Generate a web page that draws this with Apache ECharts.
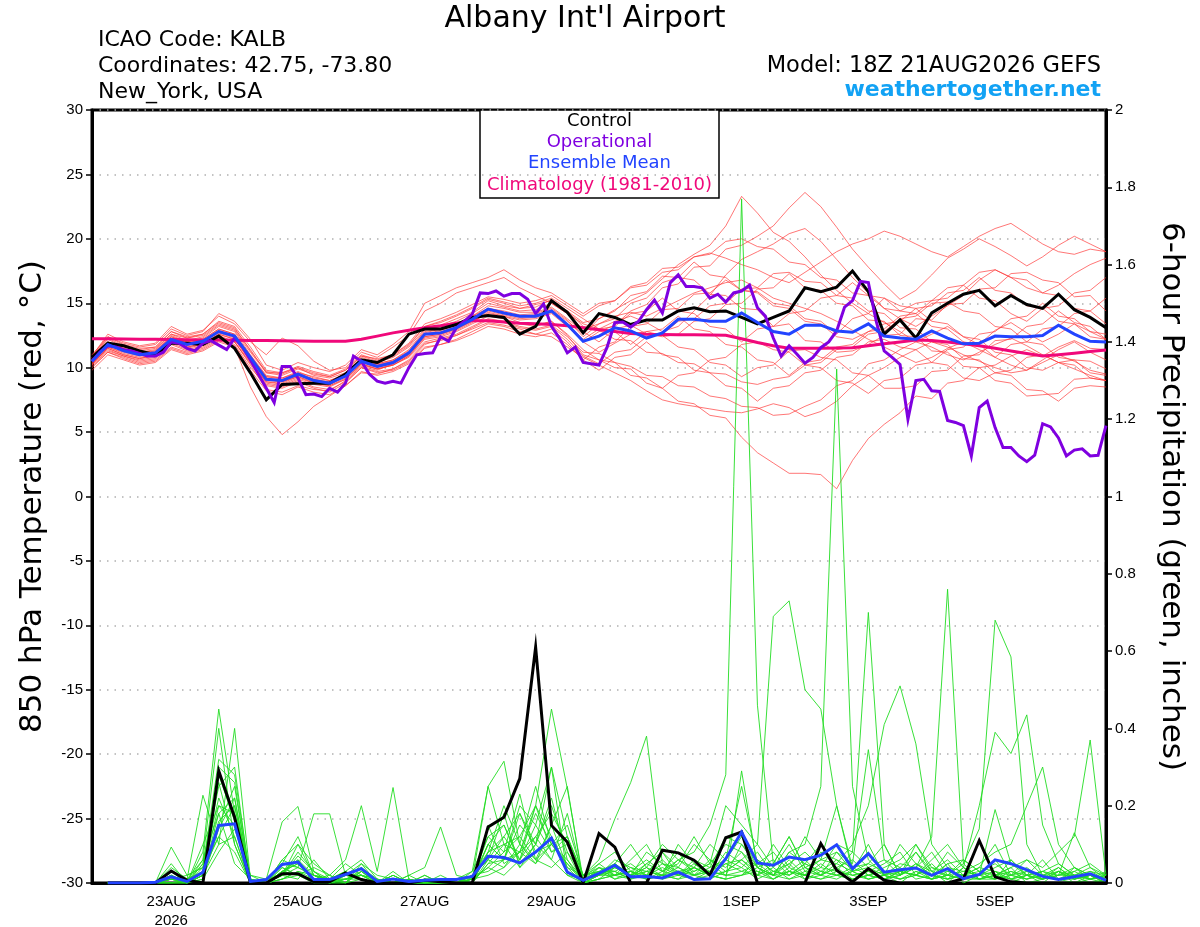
<!DOCTYPE html>
<html>
<head>
<meta charset="utf-8">
<title>Albany Int'l Airport - GEFS 850 hPa temperature / precipitation</title>
<script src="https://cdn.jsdelivr.net/npm/echarts@6.0.0/dist/echarts.min.js"></script>
<style>
html, body { margin: 0; padding: 0; background: #fff; }
#chart { width: 1200px; height: 927px; }
</style>
</head>
<body>
<div id="chart"></div>
<script>
// x is the forecast step, 6-hourly from 18Z 21AUG2026 (0) to 18Z 06SEP2026 (64)
const dateTicks = [5, 13, 21, 29, 41, 49, 57]
const dateLabels = ['23AUG\n2026', '25AUG', '27AUG', '29AUG', '1SEP', '3SEP', '5SEP']

// 850 hPa temperature, deg C, 6-hourly
const controlTemp = [10.8,11.9,11.7,11.3,11.0,11.9,11.9,11.8,12.45,11.5, 9.6,7.5,8.7,8.75,8.8,8.8,9.5,10.6,10.4,11.0, 12.6,13.0,13.0,13.35,13.9,14.05,13.9,12.6,13.2,15.2, 14.3,12.7,14.2,13.9,13.35,13.7,13.7,14.4,14.65,14.35, 14.4,13.9,13.4,13.9,14.4,16.2,15.9,16.25,17.5,15.9, 12.6,13.7,12.3,14.25,15.0,15.7,16.0,14.8,15.6,14.9, 14.6,15.7,14.5,13.9,13.1]
const meanTemp = [10.5,11.8,11.3,11.0,11.15,12.2,11.8,12.05,12.8,12.45, 10.8,9.1,9.0,9.5,9.0,8.8,9.35,10.5,10.1,10.4, 11.15,12.6,12.7,13.1,13.75,14.55,14.25,14.0,14.0,14.4, 13.35,12.05,12.45,13.1,12.85,12.3,12.7,13.75,13.75,13.6, 13.6,14.25,13.5,12.8,12.6,13.3,13.3,12.85,12.75,13.4, 12.45,12.3,12.2,12.85,12.3,11.85,11.9,12.45,12.4,12.4, 12.5,13.3,12.6,12.05,12.0]
const climoTemp = [12.25,12.25,12.22,12.2,12.2,12.18,12.16,12.15,12.14,12.12, 12.1,12.1,12.08,12.07,12.06,12.05,12.05,12.2,12.45,12.7, 12.9,13.1,13.25,13.45,13.65,13.65,13.55,13.45,13.4,13.35, 13.25,13.1,12.95,12.8,12.65,12.6,12.58,12.56,12.55,12.54, 12.52,12.25,11.95,11.7,11.5,11.5,11.5,11.52,11.55,11.7, 11.85,12.0,12.15,12.1,12.0,11.85,11.7,11.5,11.3,11.1, 10.9,11.0,11.12,11.25,11.37]
// operational run is 3-hourly (step 0, 0.5, 1, ...)
const operTemp = [10.5,11.2,11.7,11.6,11.4,11.3,11.1,10.9,10.9,11.2, 12.0,11.9,11.5,11.3,11.9,12.1,11.75,11.4,12.3,11.6, 10.6,9.5,8.4,7.3,10.1,10.1,9.2,7.9,7.95,7.75, 8.4,8.1,8.8,10.9,10.5,9.5,8.95,8.8,8.95,8.8, 10.0,11.0,11.1,11.15,12.4,12.05,13.1,13.6,14.15,15.8, 15.75,15.95,15.55,15.75,15.75,15.3,14.2,14.95,13.2,12.3, 11.15,11.6,10.4,10.3,10.2,11.55,13.5,13.55,13.15,13.6, 14.5,15.25,14.25,16.6,17.2,16.3,16.3,16.2,15.4,15.7, 15.1,15.8,15.95,16.4,14.65,14.0,12.3,10.9,11.7,11.05, 10.35,10.8,11.55,12.0,12.85,14.7,15.2,16.7,16.6,13.6, 11.3,10.8,10.25,6.0,9.0,9.1,8.2,8.15,5.9,5.75, 5.5,3.15,6.9,7.4,5.35,3.8,3.8,3.15,2.7,3.2, 5.65,5.4,4.55,3.15,3.6,3.7,3.15,3.2,5.5]

// ensemble members, 850 hPa temperature
const memberT01 = [10.8,12.2,11.6,11.3,11.5,12.6,12.3,12.5,13.4,13.0, 11.4,9.6,9.4,9.9,9.5,9.3,9.8,10.9,10.7,11.0, 11.8,13.2,13.5,14.0,14.6,15.3,15.0,14.6,14.9,15.2, 14.4,13.5,13.8,14.5,15.2,15.8,16.9,18.0,18.8,19.5, 21.0,23.3,22.0,20.5,19.8,18.6,17.2,16.0,15.0,14.2, 13.5,12.8,12.0,12.6,13.2,12.4,11.8,12.9,13.5,12.7, 12.0,12.6,13.4,12.8,12.2]
const memberT02 = [10.2,11.6,11.1,10.8,10.9,12.0,11.6,11.9,12.6,12.2, 10.5,8.8,8.6,9.1,8.7,8.5,9.1,10.2,9.9,10.2, 10.9,12.3,12.5,12.9,13.5,14.3,14.0,13.7,13.8,14.2, 13.2,12.0,12.8,13.3,14.4,14.9,16.2,16.5,17.8,17.9, 19.2,19.5,20.2,21.0,22.4,23.6,22.5,20.9,19.2,17.8, 16.5,15.3,16.0,17.2,18.5,19.2,20.0,19.4,18.7,17.9, 18.6,19.5,20.2,19.6,19.0]
const memberT03 = [10.4,11.5,11.0,10.7,11.0,12.0,11.5,11.8,12.5,12.0, 10.2,8.3,8.1,8.6,8.3,8.2,9.0,10.1,9.8,10.3, 11.0,12.4,12.6,13.0,13.6,14.2,14.0,13.5,13.3,13.6, 12.5,11.0,10.6,10.0,9.9,8.8,8.4,7.4,7.2,6.3, 6.1,4.6,3.4,2.6,1.8,1.8,1.7,0.6,2.8,4.5, 5.6,6.5,7.8,7.6,8.8,9.0,10.0,10.2,10.9,11.4, 10.9,11.6,12.1,11.5,11.4]
const memberT04 = [9.8,11.0,10.6,10.2,10.4,11.4,11.0,11.3,12.0,11.6, 8.5,6.2,4.8,5.8,7.0,7.8,8.6,9.6,9.5,9.9, 10.5,11.8,12.2,12.5,13.0,13.5,13.3,13.0,12.6,12.4, 11.6,10.8,10.2,9.6,9.0,8.2,7.5,7.2,7.0,6.8, 6.6,6.5,6.8,7.2,6.9,6.2,6.6,7.4,8.6,9.4, 10.0,10.8,11.4,12.0,11.6,11.0,10.5,10.0,9.6,9.8, 10.4,11.0,10.5,9.8,9.5]
const memberT05 = [10.9,12.6,12.0,11.7,11.9,13.2,12.6,12.9,14.0,13.4, 12.0,11.0,12.3,11.7,10.5,9.8,10.0,11.2,10.8,11.6, 12.5,14.4,15.0,15.8,16.2,16.6,17.0,16.2,15.6,15.0, 14.2,13.4,13.0,13.6,14.0,13.5,12.8,13.2,14.4,15.6, 17.2,18.4,19.0,19.6,20.4,20.8,19.8,18.4,17.0,15.8, 14.6,13.8,13.2,14.0,14.8,15.6,16.8,17.6,17.0,16.2, 15.8,16.4,17.3,18.0,18.5]
const memberT06 = [10.6,11.9,11.4,11.2,11.3,12.4,12.0,12.3,13.2,12.8, 11.0,9.4,9.2,9.6,9.3,9.0,9.5,10.6,10.3,10.6, 11.4,12.9,13.2,13.6,14.2,15.0,14.7,14.4,14.5,15.0, 14.2,13.0,13.4,14.0,14.3,14.0,14.6,15.2,15.8,16.2, 16.6,16.8,16.2,15.4,15.0,14.6,14.2,13.6,12.9,12.2, 11.6,11.0,10.4,10.8,11.5,12.0,11.4,10.8,10.2,9.8, 10.6,11.4,12.0,11.2,10.6]
const memberT07 = [10.3,11.4,10.9,10.5,10.7,11.8,11.3,11.6,12.3,12.0, 10.4,8.9,8.8,9.3,8.8,8.6,9.2,10.3,9.9,10.2, 10.8,12.0,12.3,12.6,13.2,13.8,13.6,13.2,13.0,13.3, 12.4,11.2,11.1,10.4,10.1,9.4,9.3,8.6,8.5,7.8, 7.6,7.0,6.9,6.3,6.4,7.0,7.5,8.6,9.0,10.3, 10.6,11.4,12.0,11.6,11.0,10.6,11.2,11.8,12.3,11.7, 11.0,10.4,9.9,9.4,9.0]
const memberT08 = [11.0,12.4,11.8,11.5,11.6,12.8,12.4,12.6,13.6,13.2, 11.6,9.8,9.6,10.1,9.7,9.4,9.9,11.0,10.6,11.0, 11.9,13.4,13.8,14.3,14.9,15.5,15.3,15.0,15.2,15.6, 14.8,14.0,14.8,15.2,16.3,16.6,17.7,17.8,18.6,18.9, 18.5,18.0,17.6,17.0,16.6,17.4,18.2,19.0,19.6,20.0, 20.6,20.2,19.6,19.0,18.6,19.4,20.2,20.8,21.2,20.4, 19.6,19.0,18.8,19.2,19.0]
const memberT09 = [10.1,11.2,10.8,10.4,10.6,11.6,11.2,11.5,12.2,11.8, 10.0,8.6,8.4,8.9,8.4,8.1,8.8,10.0,9.6,9.8, 10.4,11.6,11.8,12.2,12.8,13.4,13.2,12.8,12.6,13.0, 12.0,10.6,11.6,12.0,13.2,13.4,14.5,14.6,15.7,15.8, 16.8,16.0,15.9,15.0,14.8,13.8,13.6,12.6,13.8,14.2, 15.4,14.8,14.6,13.6,13.4,12.4,12.2,11.2,11.0,10.0, 9.8,10.4,10.6,10.5,9.9]
const memberT10 = [10.7,12.0,11.5,11.2,11.4,12.6,12.1,12.4,13.3,12.9, 11.2,9.6,9.6,10.0,9.4,9.2,9.6,10.8,10.4,10.8, 11.6,13.0,13.3,13.8,14.3,15.2,14.8,14.6,14.7,15.3, 14.4,13.2,12.9,12.2,12.1,11.2,11.1,10.4,10.3,9.6, 9.5,8.9,8.7,9.1,9.3,10.2,10.4,11.4,11.6,12.6, 12.8,13.8,14.0,15.0,15.1,14.4,14.2,13.2,13.0,12.0, 11.8,10.8,10.6,9.6,9.4]
const memberT11 = [10.5,11.7,11.3,11.0,11.2,12.3,11.9,12.1,12.9,12.5, 10.7,9.1,8.9,9.4,9.0,8.8,9.4,10.5,10.2,10.5, 11.2,12.6,12.9,13.3,13.9,14.6,14.3,14.0,14.1,14.5, 13.6,12.6,13.8,14.4,15.6,15.9,17.1,17.0,16.8,15.7, 15.6,14.6,14.5,13.2,13.4,12.1,12.0,11.2,11.3,11.8, 12.5,12.6,13.8,13.7,14.9,15.0,16.1,16.2,17.3,17.4, 16.8,16.6,15.5,15.6,14.4]
const memberT12 = [10.4,11.6,11.2,10.9,11.0,12.1,11.7,12.0,12.7,12.3, 10.6,9.0,8.9,9.3,8.9,8.7,9.3,10.4,10.0,10.3, 11.0,12.4,12.6,13.0,13.6,14.4,14.1,13.8,13.9,14.3, 13.3,12.0,11.2,11.9,12.6,12.8,12.5,11.6,11.4,10.4, 10.2,9.3,10.0,10.2,11.3,11.4,10.8,10.6,9.6,9.4, 8.4,8.4,8.6,9.7,9.8,10.9,11.0,12.1,12.2,13.2, 13.4,14.4,13.5,13.2,12.2]
const memberT13 = [10.6,12.0,11.5,11.1,11.3,12.5,12.0,12.2,13.0,12.6, 10.9,9.3,9.2,9.7,9.2,9.0,9.5,10.6,10.3,10.6, 11.3,12.8,13.0,13.4,14.0,14.8,14.6,14.3,14.3,14.7, 13.8,12.8,12.0,13.0,13.3,12.6,12.4,12.6,13.6,13.8, 14.9,15.0,16.1,16.2,17.3,16.2,16.0,15.0,14.8,13.7, 13.6,12.5,12.4,11.3,11.2,10.1,10.0,9.0,8.8,7.8, 7.9,8.0,9.1,9.2,9.0]
const memberT14 = [10.2,11.3,10.9,10.6,10.8,11.9,11.4,11.7,12.4,12.0, 10.3,8.7,8.5,9.0,8.5,8.3,8.9,10.0,9.7,9.9, 10.6,11.9,12.1,12.5,13.1,13.7,13.5,13.1,12.9,13.2, 12.2,10.9,10.3,11.2,11.4,12.4,12.6,13.6,13.8,14.8, 15.0,16.1,16.2,17.3,17.4,16.7,16.6,15.6,15.4,14.4, 14.2,13.1,13.0,12.0,11.8,10.7,10.6,9.6,9.4,8.3, 8.2,7.4,8.4,8.6,8.5]
const memberT15 = [10.8,12.3,11.7,11.4,11.6,12.8,12.3,12.6,13.5,13.1, 11.3,9.7,9.5,10.0,9.6,9.3,9.8,10.9,10.5,10.9, 11.7,13.2,13.6,14.1,14.7,15.4,15.1,14.8,15.0,15.4, 14.6,13.8,13.0,12.8,11.8,12.8,13.0,14.0,13.0,12.8, 11.8,11.6,10.6,10.4,9.4,10.4,10.6,11.6,11.8,12.8, 13.0,14.0,14.2,15.2,15.4,16.4,15.4,15.2,14.2,13.6, 14.6,14.8,15.8,16.0,17.0]
const memberT16 = [10.5,11.8,11.3,11.0,11.1,12.2,11.8,12.0,12.8,12.4, 10.8,9.2,9.0,9.5,9.1,8.8,9.3,10.5,10.1,10.4, 11.1,12.6,12.8,13.2,13.8,14.5,14.2,13.9,14.0,14.4, 13.4,12.2,13.0,13.2,14.2,14.4,15.4,14.4,14.2,13.2, 13.0,12.0,13.0,13.2,14.2,14.4,15.4,15.6,16.6,15.6, 15.4,14.4,14.2,13.2,13.0,12.0,11.8,10.8,11.8,12.0, 13.0,13.2,14.2,14.4,15.4]
const memberT17 = [10.3,11.5,11.0,10.7,10.9,12.0,11.6,11.8,12.6,12.2, 10.5,8.9,8.7,9.2,8.8,8.6,9.1,10.3,9.9,10.2, 10.9,12.2,12.4,12.8,13.4,14.0,13.8,13.4,13.2,13.6, 12.6,11.4,10.6,10.4,9.4,9.2,8.4,9.4,9.6,10.6, 10.8,11.8,12.0,11.4,11.2,10.2,10.0,9.0,8.8,8.0, 9.0,9.2,10.2,10.4,11.4,11.6,12.6,12.8,13.8,14.0, 15.0,14.0,13.8,12.8,12.6]
const memberT18 = [10.6,11.9,11.4,11.0,11.2,12.4,11.9,12.2,13.0,12.6, 10.9,9.3,9.1,9.6,9.1,8.9,9.4,10.6,10.2,10.5, 11.2,12.7,13.0,13.4,14.0,14.6,14.4,14.1,14.2,14.6, 13.7,12.4,13.4,13.8,15.0,15.4,16.6,17.0,18.2,17.2, 17.0,16.0,15.8,14.8,14.6,13.6,13.4,12.4,12.2,12.8, 13.4,13.6,14.6,14.8,15.8,16.0,17.0,16.0,15.8,14.8, 14.6,13.6,13.4,12.4,12.2]
const memberT19 = [10.0,11.2,10.7,10.3,10.5,11.5,11.1,11.4,12.1,11.7, 9.8,8.2,7.9,8.5,8.1,7.9,8.6,9.7,9.4,9.7, 10.3,11.5,11.8,12.1,12.6,13.2,13.0,12.6,12.4,12.7, 11.8,10.6,9.8,10.8,11.0,12.0,11.0,10.8,9.8,9.6, 8.6,8.4,7.4,8.4,8.6,9.6,9.8,10.8,11.0,12.0, 12.2,11.6,11.4,10.4,10.2,9.2,9.0,9.6,9.8,10.8, 11.0,10.4,10.2,9.2,9.0]
const memberT20 = [10.9,12.4,11.9,11.6,11.8,13.0,12.5,12.8,14.2,13.6, 12.2,10.2,9.8,10.4,10.0,9.7,10.2,11.4,11.0,11.8, 12.8,15.0,15.6,16.2,16.6,17.0,17.6,16.8,16.2,15.8, 15.0,14.2,15.0,15.2,16.2,16.4,17.4,17.6,18.6,18.8, 19.8,20.0,19.4,19.2,18.2,18.0,17.0,16.8,15.8,15.6, 14.6,14.4,15.0,15.2,16.2,16.4,17.4,17.6,17.0,16.8, 15.8,15.6,14.6,14.4,13.4]

// 6-hour precipitation, inches, steps 1..64
const controlPrecip = [0,0,0,0,0.031,0.007,0,0.29, 0.17,0,0,0.024,0.024,0.003,0.003,0.026, 0.009,0,0,0,0.007,0.003,0,0, 0.145,0.17,0.27,0.61,0.149,0.106,0,0.128, 0.093,0,0,0.085,0.078,0.059,0.02,0.117, 0.132,0,0,0,0,0.102,0.033,0.003, 0.037,0.007,0,0,0,0,0.011,0.11, 0.016,0.003,0,0,0,0,0,0]
const meanPrecip = [0,0,0,0.002,0.016,0.004,0.028,0.149, 0.153,0.004,0.009,0.048,0.054,0.009,0.009,0.022, 0.037,0.004,0.01,0.004,0.007,0.009,0.009,0.017, 0.069,0.066,0.052,0.08,0.116,0.028,0.007,0.025, 0.046,0.016,0.017,0.013,0.028,0.009,0.011,0.063, 0.132,0.052,0.046,0.067,0.06,0.072,0.099,0.037, 0.076,0.028,0.034,0.039,0.02,0.037,0.011,0.022, 0.06,0.05,0.034,0.017,0.009,0.016,0.024,0.007]
const memberP01 = [0,0,0,0,0.02,0,0.04,0.32, 0.28,0.01,0,0.03,0.06,0,0,0.02, 0.05,0,0,0,0,0.01,0,0, 0.05,0.1,0.08,0.2,0.12,0.03,0,0.02, 0.05,0.1,0.04,0.02,0.06,0.08,0.15,0.28, 1.77,0.46,0.05,0.12,0.04,0.02,0.08,0.03, 0.1,0.02,0,0.03,0.01,0.05,0,0.02, 0.06,0.01,0,0,0.03,0.01,0.02,0]
const memberP02 = [0,0,0,0,0.01,0,0.02,0.18, 0.22,0,0,0.02,0.08,0.03,0,0, 0.01,0,0.02,0,0,0,0,0.03, 0.12,0.15,0.05,0.1,0.2,0.08,0,0.04, 0.02,0.06,0.1,0.03,0.05,0.12,0.05,0.2, 0.15,0.1,0.69,0.73,0.5,0.45,0.2,0.03, 0.05,0.1,0.02,0.08,0.03,0,0.04,0.02, 0.01,0.06,0.02,0,0,0.04,0.02,0.01]
const memberP03 = [0,0,0,0,0,0,0.05,0.25, 0.3,0,0.01,0.05,0.12,0.02,0.01,0, 0.03,0,0,0.01,0,0,0.01,0, 0.08,0.2,0.1,0.05,0.15,0.25,0,0.01, 0.04,0.02,0.08,0.05,0.02,0.04,0.1,0.06, 0.12,0.04,0.02,0.08,0.1,0.25,1.33,0.25, 0.06,0.02,0.1,0.05,0.02,0.08,0.04,0.01, 0.03,0,0.02,0.06,0.01,0,0.02,0]
const memberP04 = [0,0,0,0,0.03,0,0.1,0.2, 0.15,0,0,0.03,0.05,0.01,0,0.01, 0.02,0,0.01,0,0.02,0,0,0.01, 0.1,0.06,0.15,0.1,0.3,0.12,0.02,0.05, 0.08,0.03,0.01,0.02,0.1,0.05,0.02,0.08, 0.05,0.02,0.1,0.04,0.12,0.06,0.2,0.04, 0.08,0.02,0.05,0.04,0.12,0.76,0.05,0.01, 0.02,0.04,0,0.01,0.03,0,0.01,0.02]
const memberP05 = [0,0,0,0,0.01,0.01,0.06,0.4, 0.1,0,0,0.04,0.02,0,0.01,0.03, 0.01,0,0.02,0,0,0.01,0,0.02, 0.06,0.12,0.18,0.08,0.1,0.05,0.01,0.03, 0.05,0.02,0.04,0.1,0.06,0.03,0.05,0.1, 0.08,0.04,0.06,0.02,0.05,0.1,0.03,0.08, 0.04,0.06,0.02,0.1,0.03,0.02,0.05,0.14, 0.68,0.585,0.1,0.02,0.04,0.01,0.03,0.02]
const memberP06 = [0,0,0,0,0.02,0,0.03,0.12, 0.2,0.01,0,0.02,0.1,0.05,0.02,0, 0.04,0.01,0,0.02,0,0,0,0.01, 0.04,0.08,0.12,0.06,0.1,0.15,0.02,0.03, 0.03,0.01,0.05,0.08,0.02,0.06,0.04,0.12, 0.1,0.06,0.03,0.05,0.08,0.04,0.1,0.08, 0.7,0.1,0.02,0.05,0.03,0.06,0.02,0.04, 0.1,0.02,0.01,0.03,0.05,0.02,0,0.01]
const memberP07 = [0,0,0,0,0,0,0.08,0.45, 0.18,0.02,0,0.06,0.04,0.02,0,0.02, 0.02,0,0.03,0,0.01,0,0,0, 0.15,0.05,0.08,0.18,0.1,0.06,0,0.02, 0.06,0.04,0.02,0.05,0.04,0.1,0.06,0.03, 0.06,0.1,0.04,0.1,0.03,0.06,0.05,0.1, 0.2,0.41,0.51,0.36,0.1,0.04,0.03,0.02, 0.04,0.06,0.02,0.01,0.02,0.03,0.01,0]
const memberP08 = [0,0,0,0,0.01,0.02,0.04,0.22, 0.12,0,0.01,0.02,0.07,0.03,0,0.01, 0.03,0,0.01,0,0,0,0.01,0, 0.05,0.06,0.2,0.15,0.08,0.1,0.01,0.05, 0.02,0.03,0.06,0.03,0.08,0.02,0.03,0.06, 0.04,0.08,0.02,0.06,0.02,0.08,0.06,0.02, 0.03,0.05,0.08,0.02,0.06,0.1,0.04,0.2, 0.39,0.335,0.435,0.15,0.05,0.02,0.04,0.01]
const memberP09 = [0,0,0,0,0,0,0.02,0.15, 0.25,0,0,0.05,0.04,0.02,0.01,0.05, 0.02,0,0,0.01,0,0,0,0.01, 0.25,0.1,0.04,0.08,0.12,0.04,0.02,0.06, 0.166,0.26,0.38,0.05,0.03,0.04,0.02,0.05, 0.03,0.05,0.08,0.03,0.06,0.02,0.04,0.06, 0.02,0.04,0.06,0.1,0.04,0.02,0.03,0.05, 0.08,0.1,0.2,0.3,0.1,0.04,0.02,0.01]
const memberP10 = [0,0,0,0,0.02,0,0.02,0.1, 0.4,0.01,0,0.03,0.02,0.04,0.02,0, 0.05,0.02,0.01,0,0.01,0.01,0,0, 0.1,0.15,0.06,0.2,0.08,0.12,0.02,0.04, 0.03,0.05,0.02,0.08,0.04,0.02,0.06,0.04, 0.08,0.02,0.05,0.12,0.04,0.06,0.08,0.05, 0.345,0.06,0.04,0.08,0.02,0.05,0.06,0.03, 0.05,0.02,0.06,0.04,0.08,0.12,0.37,0.02]
const memberP11 = [0,0,0,0,0.04,0.01,0.03,0.2, 0.18,0,0,0.01,0.03,0.02,0,0.02, 0.01,0,0.02,0,0,0.02,0,0.02, 0.08,0.1,0.12,0.2,0.45,0.244,0.01,0.02, 0.04,0.02,0.05,0.03,0.06,0.04,0.02,0.03, 0.06,0.03,0.02,0.08,0.05,0.03,0.06,0.04, 0.05,0.03,0.02,0.04,0.08,0.02,0.06,0.03, 0.02,0.04,0.06,0.02,0.01,0.03,0.05,0.02]
const memberP12 = [0,0,0,0,0.01,0,0.05,0.26, 0.1,0,0,0.02,0.01,0.06,0.01,0.01, 0.02,0.01,0,0,0.02,0,0.01,0.03, 0.25,0.315,0.1,0.06,0.04,0.08,0.02,0.03, 0.02,0.04,0.03,0.06,0.02,0.05,0.03,0.02, 0.02,0.06,0.03,0.02,0.04,0.02,0.05,0.03, 0.04,0.02,0.03,0.02,0.04,0.03,0.02,0.02, 0.19,0.05,0.02,0.03,0.02,0.13,0.04,0.02]
const memberP13 = [0,0,0,0,0.01,0,0.01,0.08, 0.14,0.02,0.01,0.158,0.198,0.03,0.01,0.03, 0.06,0.01,0,0.01,0,0.01,0,0.02, 0.03,0.06,0.18,0.1,0.06,0.02,0.01,0.02, 0.05,0.02,0.04,0.01,0.02,0.03,0.05,0.02, 0.1,0.04,0.02,0.03,0.02,0.04,0.03,0.02, 0.03,0.01,0.02,0.05,0.02,0.01,0.02,0.04, 0.03,0.02,0.04,0.01,0.02,0.02,0.01,0.03]
const memberP14 = [0,0,0,0,0,0,0.02,0.16, 0.2,0,0,0.02,0.04,0.179,0.179,0.02, 0.04,0,0.01,0,0,0,0.01,0, 0.06,0.04,0.1,0.25,0.1,0.05,0,0.01, 0.02,0.03,0.01,0.02,0.04,0.02,0.01,0.03, 0.04,0.01,0.03,0.02,0.05,0.03,0.02,0.01, 0.02,0.03,0.01,0.02,0.01,0.03,0.02,0.01, 0.02,0.03,0.01,0.02,0.03,0.01,0.02,0]
const memberP15 = [0,0,0,0,0.03,0,0.01,0.14, 0.22,0,0,0.04,0.02,0.01,0.02,0.06, 0.2,0.03,0.247,0.01,0,0,0.01,0.01, 0.04,0.02,0.06,0.12,0.18,0.1,0.01,0.03, 0.01,0.02,0.03,0.02,0.01,0.04,0.02,0.01, 0.02,0.03,0.01,0.04,0.02,0.01,0.03,0.02, 0.01,0.02,0.04,0.01,0.02,0.01,0.02,0.03, 0.01,0.02,0.03,0.01,0.02,0.04,0.01,0.02]
const memberP16 = [0,0,0,0,0,0.01,0.227,0.1, 0.12,0,0,0.03,0.05,0.01,0,0.02, 0.01,0,0,0.02,0.04,0.145,0.02,0.01, 0.02,0.04,0.08,0.05,0.1,0.12,0.01,0.02, 0.03,0.01,0.02,0.04,0.02,0.01,0.03,0.02, 0.03,0.02,0.04,0.01,0.02,0.05,0.02,0.01, 0.02,0.01,0.03,0.02,0.01,0.02,0.01,0.02, 0.03,0.01,0.02,0.01,0.03,0.02,0.01,0.02]
const memberP17 = [0,0,0,0,0.093,0.02,0.04,0.12, 0.08,0,0,0.01,0.02,0.01,0,0.01, 0.02,0,0,0,0,0,0,0.01, 0.12,0.08,0.23,0.06,0.15,0.04,0,0.01, 0.02,0.03,0.01,0.02,0.03,0.01,0.02,0.01, 0.02,0.04,0.01,0.03,0.01,0.02,0.01,0.03, 0.01,0.02,0.01,0.03,0.02,0.01,0.04,0.01, 0.02,0.01,0.03,0.02,0.01,0.02,0.03,0.01]
const memberP18 = [0,0,0,0,0.05,0,0.06,0.18, 0.05,0.01,0,0.06,0.1,0.02,0,0, 0.03,0,0.01,0,0.01,0,0,0.02, 0.06,0.18,0.04,0.1,0.22,0.06,0.01,0.04, 0.01,0.03,0.02,0.01,0.03,0.02,0.04,0.06, 0.25,0.05,0.02,0.01,0.03,0.02,0.04,0.01, 0.02,0.01,0.02,0.04,0.01,0.02,0.01,0.02, 0.01,0.03,0.02,0.01,0.04,0.01,0.02,0.01]
const memberP19 = [0,0,0,0,0.01,0,0.03,0.28, 0.16,0,0,0.02,0.06,0.02,0.01,0.01, 0.02,0.01,0,0,0.01,0.01,0,0, 0.08,0.12,0.06,0.15,0.3,0.02,0,0.02, 0.04,0.02,0.01,0.03,0.02,0.04,0.02,0.01, 0.29,0.04,0.02,0.05,0.01,0.03,0.02,0.04, 0.02,0.01,0.03,0.02,0.05,0.01,0.02,0.01, 0.02,0.01,0.02,0.03,0.01,0.02,0.01,0.02]
const memberP20 = [0,0,0,0,0.02,0,0.02,0.3, 0.26,0,0,0.01,0.03,0.01,0,0.01, 0.01,0,0.01,0,0,0,0,0.01, 0.1,0.06,0.08,0.12,0.06,0.18,0.01,0.02, 0.02,0.01,0.03,0.02,0.01,0.02,0.03,0.05, 0.06,0.02,0.01,0.03,0.02,0.01,0.02,0.03, 0.01,0.02,0.01,0.02,0.01,0.02,0.01,0.01, 0.01,0.02,0.01,0.02,0.01,0.01,0.02,0.01]

const tempMembers = [memberT01, memberT02, memberT03, memberT04, memberT05, memberT06, memberT07, memberT08, memberT09, memberT10,
  memberT11, memberT12, memberT13, memberT14, memberT15, memberT16, memberT17, memberT18, memberT19, memberT20]
const precipMembers = [memberP01, memberP02, memberP03, memberP04, memberP05, memberP06, memberP07, memberP08, memberP09, memberP10,
  memberP11, memberP12, memberP13, memberP14, memberP15, memberP16, memberP17, memberP18, memberP19, memberP20]

const FONT = '"Liberation Sans", Arial, Helvetica, sans-serif'
const WIDE = '"DejaVu Sans", Verdana, sans-serif'

function lineSeries(name, data, color, width, yAxisIndex, z) {
  return {
    name: name, type: 'line', data: data, yAxisIndex: yAxisIndex,
    symbol: 'none', silent: true, z: z,
    lineStyle: { color: color, width: width, join: 'miter' }
  }
}

function textEl(str, x, y, font, fill, align) {
  return { type: 'text', x: x, y: y, z: 100, style: { text: str, font: font, fill: fill, align: align, verticalAlign: 'middle' } }
}

function initChart() {
  let myChart = echarts.init(document.getElementById('chart'), null, { renderer: 'canvas' })

  const series = []
  tempMembers.forEach((m, k) => {
    series.push(lineSeries('T member ' + (k + 1), m.map((v, i) => [i, v]), 'rgba(255,50,50,0.75)', 0.9, 0, 2))
  })
  precipMembers.forEach((m, k) => {
    series.push(lineSeries('P member ' + (k + 1), m.map((v, i) => [i + 1, v]), '#22dd22', 0.9, 1, 3))
  })
  series.push(lineSeries('Control precip', controlPrecip.map((v, i) => [i + 1, v]), '#000', 3, 1, 5))
  series.push(lineSeries('Mean precip', meanPrecip.map((v, i) => [i + 1, v]), '#2244ff', 3, 1, 6))
  series.push(lineSeries('Climatology', climoTemp.map((v, i) => [i, v]), '#f0087a', 3, 0, 7))
  series.push(lineSeries('Control', controlTemp.map((v, i) => [i, v]), '#000', 3, 0, 8))
  series.push(lineSeries('Operational', operTemp.map((v, j) => [j / 2, v]), '#7f00e0', 3, 0, 9))
  series.push(lineSeries('Ensemble Mean', meanTemp.map((v, i) => [i, v]), '#2244ff', 3, 0, 10))

  const option = {
    animation: false,
    backgroundColor: '#fff',
    textStyle: { fontFamily: FONT, color: '#000' },
    grid: { left: 92, right: 94, top: 110, bottom: 44, show: true, borderColor: '#000', borderWidth: 3, outerBoundsMode: 'none' },
    xAxis: {
      type: 'value', min: 0, max: 64, interval: 1,
      axisLine: { show: true, onZero: false, lineStyle: { color: '#000', width: 3 } },
      axisTick: { show: false },
      splitLine: { show: false },
      axisLabel: {
        color: '#000', fontSize: 15, fontFamily: FONT, margin: 9, lineHeight: 19,
        showMinLabel: true, showMaxLabel: true,
        formatter: v => {
          const k = dateTicks.indexOf(Math.round(v))
          return k >= 0 && Math.abs(v - dateTicks[k]) < 1e-6 ? dateLabels[k] : ''
        }
      }
    },
    yAxis: [
      {
        type: 'value', min: -30, max: 30, interval: 5, position: 'left',
        name: '850 hPa Temperature (red, \u00b0C)', nameLocation: 'middle', nameRotate: 90, nameGap: 44,
        nameTextStyle: { fontSize: 31, color: '#000', fontFamily: WIDE },
        axisLine: { show: true, onZero: false, lineStyle: { color: '#000', width: 3 } },
        axisTick: { show: true, length: 6, lineStyle: { color: '#000', width: 1.5 } },
        axisLabel: { color: '#000', fontSize: 15, fontFamily: FONT, margin: 9 },
        splitLine: { show: true, lineStyle: { color: '#b0b0b0', width: 1.5, type: [1.5, 6] } }
      },
      {
        type: 'value', min: 0, max: 2, interval: 0.2, position: 'right',
        name: '6-hour Precipitation (green, inches)', nameLocation: 'middle', nameRotate: -90, nameGap: 50,
        nameTextStyle: { fontSize: 31, color: '#000', fontFamily: WIDE },
        axisLine: { show: true, onZero: false, lineStyle: { color: '#000', width: 3 } },
        axisTick: { show: true, length: 6, lineStyle: { color: '#000', width: 1.5 } },
        axisLabel: { color: '#000', fontSize: 15, fontFamily: FONT, margin: 9, formatter: v => String(+v.toFixed(1)) },
        splitLine: { show: false }
      }
    ],
    graphic: [
      textEl("Albany Int'l Airport", 585, 19, '30px ' + WIDE, '#000', 'center'),
      textEl('ICAO Code: KALB', 98, 40, '22px ' + WIDE, '#000', 'left'),
      textEl('Coordinates: 42.75, -73.80', 98, 66, '22px ' + WIDE, '#000', 'left'),
      textEl('New_York, USA', 98, 92, '22px ' + WIDE, '#000', 'left'),
      textEl('Model: 18Z 21AUG2026 GEFS', 1101, 66, '22.5px ' + WIDE, '#000', 'right'),
      textEl('weathertogether.net', 1101, 90, 'bold 22px ' + WIDE, '#12a2f4', 'right'),
      {
        type: 'group', z: 100,
        children: [
          { type: 'rect', shape: { x: 480, y: 110, width: 239, height: 88 }, style: { fill: '#fff', stroke: '#000', lineWidth: 1.5 } },
          textEl('Control', 599.5, 121, '18px ' + WIDE, '#000', 'center'),
          textEl('Operational', 599.5, 142, '18px ' + WIDE, '#7f00e0', 'center'),
          textEl('Ensemble Mean', 599.5, 163.5, '18px ' + WIDE, '#2244ff', 'center'),
          textEl('Climatology (1981-2010)', 599.5, 185, '18px ' + WIDE, '#f0087a', 'center')
        ]
      }
    ],
    series: series
  }

  myChart.setOption(option)
  window.onresize = function() {
    myChart.resize()
  }
}

initChart()
</script>
</body>
</html>
